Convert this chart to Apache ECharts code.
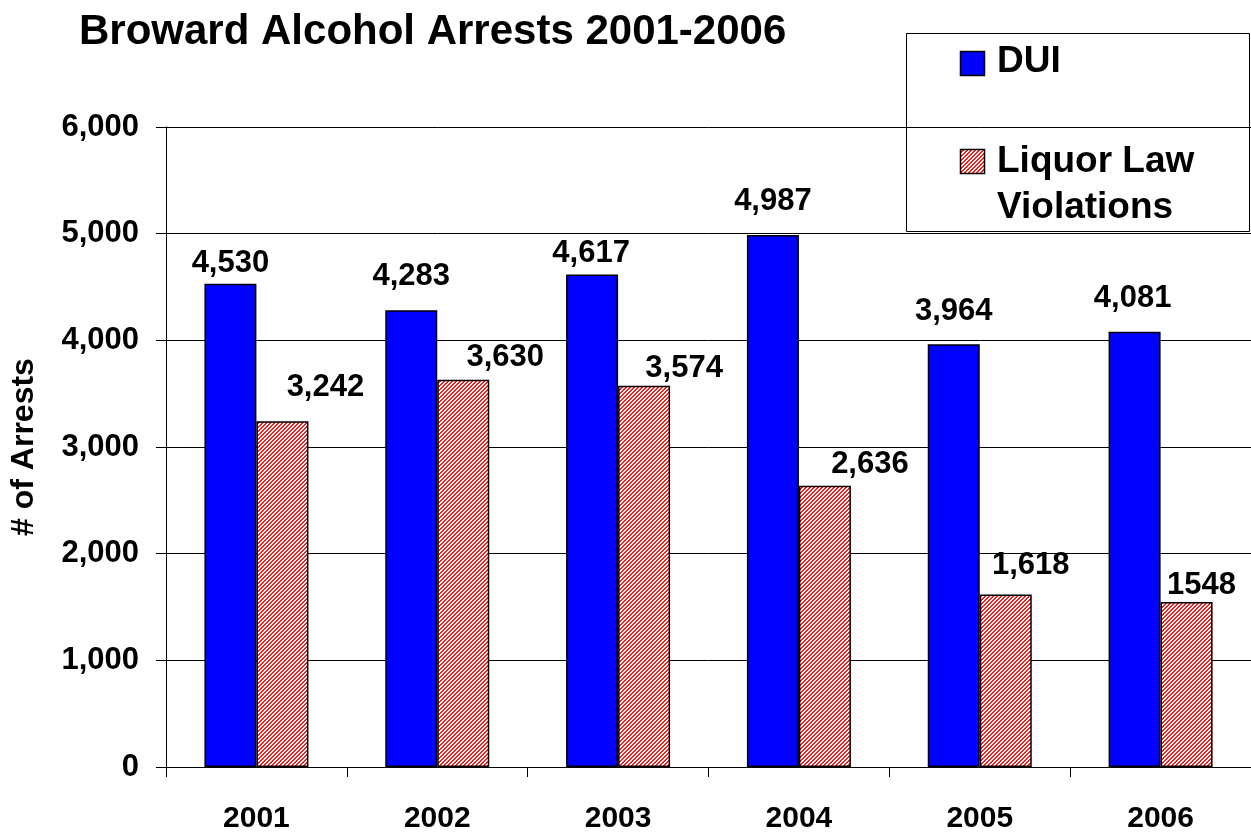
<!DOCTYPE html>
<html>
<head>
<meta charset="utf-8">
<title>Broward Alcohol Arrests 2001-2006</title>
<script src="https://cdn.jsdelivr.net/npm/echarts@6/dist/echarts.min.js"></script>
<style>
  html, body { margin: 0; padding: 0; background: #fff; }
  #chart { width: 1251px; height: 834px; }
</style>
</head>
<body>
<div id="chart"></div>
<script>
// Arrest counts by year
const years = ['2001', '2002', '2003', '2004', '2005', '2006'];
const duiArrests = [4530, 4283, 4617, 4987, 3964, 4081];
const liquorArrests = [3242, 3630, 3574, 2636, 1618, 1548];
const duiLabels = ['4,530', '4,283', '4,617', '4,987', '3,964', '4,081'];
const liquorLabels = ['3,242', '3,630', '3,574', '2,636', '1,618', '1548'];
const yTicks = [0, 1000, 2000, 3000, 4000, 5000, 6000];

const FONT = "'Liberation Sans', Arial, Helvetica, sans-serif";

// Per-bar label nudges [dx, dy] relative to the default 'top' label spot
const duiNudge = [[0, 0], [0, -13], [-1, -1], [0, -13], [0, -12], [-2, -13]];
const liquorNudge = [[43, -13], [42, -2], [40, 3], [45, -1], [25, -8], [15, 4]];

// Fine red diagonal hatch on white
function makeHatch() {
  const c = document.createElement('canvas');
  c.width = 4; c.height = 4;
  const g = c.getContext('2d');
  g.fillStyle = '#ffffff';
  g.fillRect(0, 0, 4, 4);
  g.fillStyle = '#ff1a1a';
  for (let x = 0; x < 4; x++) {
    for (let y = 0; y < 4; y++) {
      const k = (x + y) % 4;
      if (k === 0 || k === 1) g.fillRect(x, y, 1, 1);
    }
  }
  return c;
}
const hatchCanvas = makeHatch();
const hatchFill = () => ({ image: hatchCanvas, repeat: 'repeat' });

function fmtThousands(v) {
  return String(v).replace(/\B(?=(\d{3})+(?!\d))/g, ',');
}

function buildItems(values, labels, nudges) {
  return values.map((v, i) => ({
    value: v,
    label: { formatter: labels[i], offset: nudges[i] }
  }));
}

const labelStyle = {
  show: true,
  position: 'top',
  distance: 5,
  color: '#000',
  fontFamily: FONT,
  fontWeight: 'bold',
  fontSize: 31
};

const chart = echarts.init(document.getElementById('chart'), null, { renderer: 'canvas' });

chart.setOption({
  backgroundColor: '#ffffff',
  animation: false,
  title: {
    text: 'Broward Alcohol Arrests 2001-2006',
    left: 74,
    top: 5,
    textStyle: { fontFamily: FONT, fontWeight: 'bold', fontSize: 42, color: '#000', lineHeight: 44 }
  },
  grid: { left: 165, top: 127, width: 1088, height: 642, containLabel: false },
  xAxis: {
    type: 'category',
    data: years,
    boundaryGap: true,
    axisLine: { lineStyle: { color: '#000', width: 1 } },
    axisTick: { show: true, length: 10, lineStyle: { color: '#000' } },
    axisLabel: { color: '#000', fontFamily: FONT, fontWeight: 'bold', fontSize: 30, margin: 37 },
    splitLine: { show: false }
  },
  yAxis: {
    type: 'value',
    min: yTicks[0],
    max: yTicks[yTicks.length - 1],
    interval: yTicks[1] - yTicks[0],
    name: '# of Arrests',
    nameLocation: 'middle',
    nameGap: 126,
    nameTextStyle: { color: '#000', fontFamily: FONT, fontWeight: 'bold', fontSize: 32 },
    axisLine: { show: true, lineStyle: { color: '#000', width: 1 } },
    axisTick: { show: true, length: 10, lineStyle: { color: '#000' } },
    axisLabel: {
      color: '#000', fontFamily: FONT, fontWeight: 'bold', fontSize: 31, margin: 27,
      formatter: v => fmtThousands(v)
    },
    splitLine: { show: true, lineStyle: { color: '#000', width: 1 } }
  },
  series: [
    {
      name: 'DUI',
      type: 'bar',
      barWidth: 52,
      barGap: '0%',
      data: buildItems(duiArrests, duiLabels, duiNudge),
      itemStyle: { color: '#0000ff', borderColor: '#000', borderWidth: 1.5 },
      label: labelStyle
    },
    {
      name: 'Liquor Law Violations',
      type: 'bar',
      barWidth: 52,
      barGap: '0%',
      data: buildItems(liquorArrests, liquorLabels, liquorNudge),
      itemStyle: { color: hatchFill(), borderColor: '#000', borderWidth: 1.5 },
      label: labelStyle
    }
  ],
  graphic: [
    {
      type: 'group',
      z: 100,
      children: [
        {
          type: 'rect',
          shape: { x: 906.5, y: 33.5, width: 343, height: 198 },
          style: { fill: '#fff', stroke: '#000', lineWidth: 1 }
        },
        {
          type: 'rect',
          shape: { x: 960.5, y: 51.5, width: 24, height: 24 },
          style: { fill: '#0000ff', stroke: '#000', lineWidth: 1.5 }
        },
        {
          type: 'text',
          x: 997, y: 62,
          style: {
            text: 'DUI', fill: '#000', font: 'bold 37px ' + FONT,
            verticalAlign: 'middle', align: 'left'
          }
        },
        {
          type: 'rect',
          shape: { x: 960.5, y: 149.5, width: 24, height: 24 },
          style: { fill: hatchFill(), stroke: '#000', lineWidth: 1.5 }
        },
        {
          type: 'text',
          x: 997, y: 162,
          style: {
            text: 'Liquor Law', fill: '#000', font: 'bold 37px ' + FONT,
            verticalAlign: 'middle', align: 'left'
          }
        },
        {
          type: 'text',
          x: 997, y: 208,
          style: {
            text: 'Violations', fill: '#000', font: 'bold 37px ' + FONT,
            verticalAlign: 'middle', align: 'left'
          }
        }
      ]
    }
  ]
});
</script>
</body>
</html>
